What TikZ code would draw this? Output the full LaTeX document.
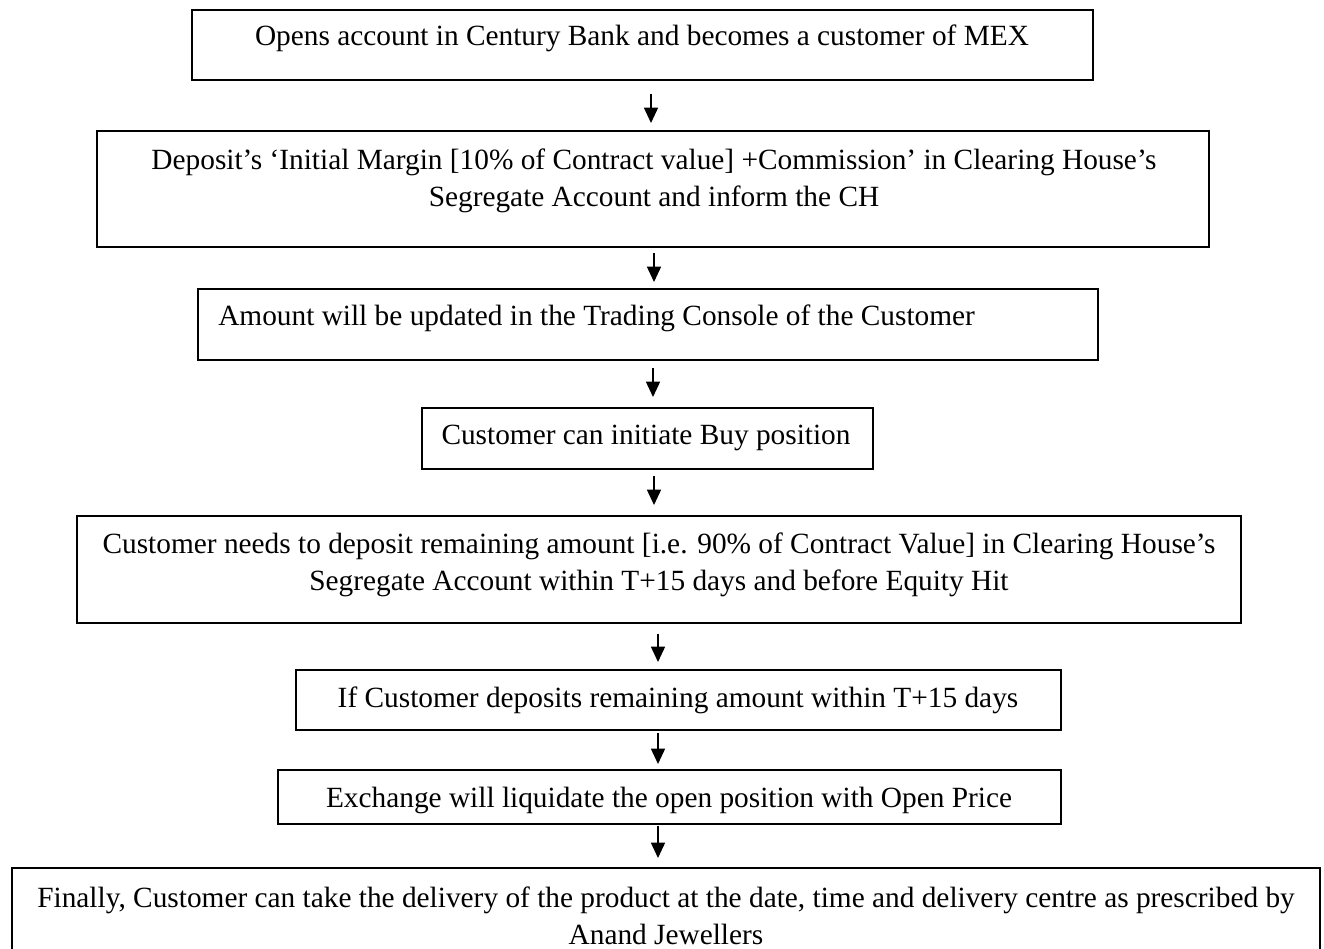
\documentclass[tikz,border=0pt]{standalone}
\usepackage{fontspec}
\setmainfont{Liberation Serif}
\usetikzlibrary{arrows.meta}
\begin{document}
\begin{tikzpicture}[x=0.75pt,y=-0.75pt,
  box/.style={draw, line width=1.5pt, inner sep=0pt},
  txt/.style={inner sep=0pt, font=\fontsize{22}{28}\selectfont, align=center},
  arr/.style={line width=1.15pt, -{Triangle[length=11.5pt,width=10.5pt]}}]
\useasboundingbox (0,0) rectangle (1324,949);
% boxes
\node[box, minimum width=675.75pt, minimum height=52.5pt] (b1) at (642.5,45) {};
\node[box, minimum width=834pt, minimum height=87pt] (b2) at (653,189) {};
\node[box, minimum width=675pt, minimum height=53.25pt] (b3) at (648,324.5) {};
\node[box, minimum width=338.25pt, minimum height=45.75pt] (b4) at (647.5,438.5) {};
\node[box, minimum width=873pt, minimum height=80.25pt] (b5) at (659,569.5) {};
\node[box, minimum width=573.75pt, minimum height=45pt] (b6) at (678.5,700) {};
\node[box, minimum width=587.25pt, minimum height=40.5pt] (b7) at (669.5,797) {};
\node[box, minimum width=981pt, minimum height=72.75pt] (b8) at (666,916.5) {};
% texts
\node[txt] (t1) at (642,38) {Opens account in Century Bank and becomes a customer of MEX};
\node[txt] (t2) at (654,181) {Deposit’s ‘Initial Margin [10\% of Contract value] +Commission’ in Clearing House’s\\Segregate Account and inform the CH};
\node[txt, anchor=west] (t3) at (218,318) {Amount will be updated in the Trading Console of the Customer};
\node[txt] (t4) at (646,438) {Customer can initiate Buy position};
\node[txt] (t5) at (659,565) {Customer needs to deposit remaining amount [i.e. 90\% of Contract Value] in Clearing House’s\\Segregate Account within T+15 days and before Equity Hit};
\node[txt] (t6) at (678,700) {If Customer deposits remaining amount within T+15 days};
\node[txt] (t7) at (669,800) {Exchange will liquidate the open position with Open Price};
\node[txt] (t8) at (666,916) {Finally, Customer can take the delivery of the product at the date, time and delivery centre as prescribed by\\Anand Jewellers};
% arrow columns
\coordinate (s1) at (651,0);
\coordinate (s2) at (654,0);
\coordinate (s3) at (653,0);
\coordinate (s4) at (654,0);
\coordinate (s5) at (658,0);
\coordinate (s6) at (658,0);
\coordinate (s7) at (658,0);
\draw[arr, shorten <=9.75pt, shorten >=5.25pt] (b1.south -| s1) -- (b2.north -| s1);
\draw[arr, shorten <=3.75pt, shorten >=4.5pt] (b2.south -| s2) -- (b3.north -| s2);
\draw[arr, shorten <=5.25pt, shorten >=7.5pt] (b3.south -| s3) -- (b4.north -| s3);
\draw[arr, shorten <=4.5pt, shorten >=7.5pt] (b4.south -| s4) -- (b5.north -| s4);
\draw[arr, shorten <=7.5pt, shorten >=5.25pt] (b5.south -| s5) -- (b6.north -| s5);
\draw[arr, shorten <=1.5pt, shorten >=3.75pt] (b6.south -| s6) -- (b7.north -| s6);
\draw[arr, shorten <=0.75pt, shorten >=6.75pt] (b7.south -| s7) -- (b8.north -| s7);
\end{tikzpicture}
\end{document}
